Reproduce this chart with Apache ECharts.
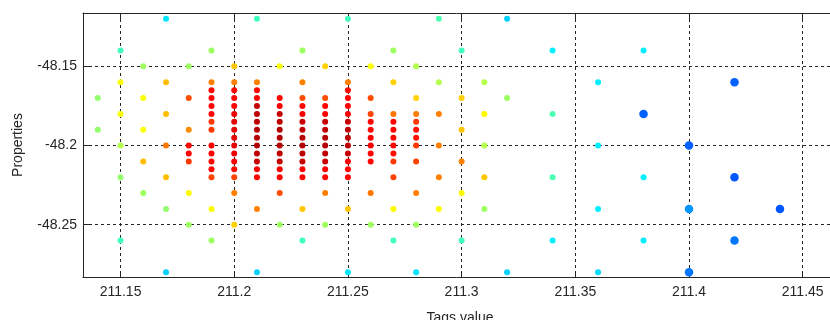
<!DOCTYPE html>
<html>
<head>
<meta charset="utf-8">
<script src="https://cdn.jsdelivr.net/npm/echarts@6/dist/echarts.min.js"></script>
<style>
  html, body { margin: 0; padding: 0; background: #ffffff; }
  #chart { width: 830px; height: 320px; }
</style>
</head>
<body>
<div id="chart"></div>
<script>
// Axis limits and tick positions
const xLimits = [211.1335, 211.462];
const yLimits = [-48.283, -48.1163];
const xTicks = [211.15, 211.2, 211.25, 211.3, 211.35, 211.4, 211.45];
const yTicks = [-48.25, -48.2, -48.15];

// Sparse lattice of readings: [tags value, property, intensity 0..1]
const outerPoints = [
  [211.14, -48.17, 0.52], [211.14, -48.19, 0.52],
  [211.15, -48.14, 0.44], [211.15, -48.16, 0.62], [211.15, -48.18, 0.62], [211.15, -48.20, 0.55], [211.15, -48.22, 0.52], [211.15, -48.26, 0.44],
  [211.16, -48.15, 0.53], [211.16, -48.17, 0.62], [211.16, -48.19, 0.62], [211.16, -48.21, 0.69], [211.16, -48.23, 0.53],
  [211.17, -48.12, 0.35], [211.17, -48.16, 0.69], [211.17, -48.18, 0.69], [211.17, -48.20, 0.76], [211.17, -48.22, 0.69], [211.17, -48.24, 0.52], [211.17, -48.28, 0.33],
  [211.18, -48.15, 0.53], [211.18, -48.17, 0.80], [211.18, -48.19, 0.74], [211.18, -48.23, 0.63], [211.18, -48.25, 0.53],
  [211.19, -48.14, 0.53], [211.19, -48.16, 0.75], [211.19, -48.24, 0.63], [211.19, -48.26, 0.53],
  [211.20, -48.15, 0.68], [211.20, -48.16, 0.75], [211.20, -48.23, 0.75], [211.20, -48.25, 0.67],
  [211.21, -48.12, 0.44], [211.21, -48.16, 0.75], [211.21, -48.24, 0.75], [211.21, -48.28, 0.33],
  [211.22, -48.15, 0.62], [211.22, -48.23, 0.80], [211.22, -48.25, 0.53],
  [211.23, -48.14, 0.53], [211.23, -48.16, 0.75], [211.23, -48.24, 0.68], [211.23, -48.26, 0.44],
  [211.24, -48.15, 0.67], [211.24, -48.23, 0.75], [211.24, -48.25, 0.53],
  [211.25, -48.12, 0.44], [211.25, -48.16, 0.75], [211.25, -48.24, 0.68], [211.25, -48.28, 0.35],
  [211.26, -48.15, 0.62], [211.26, -48.17, 0.80], [211.26, -48.18, 0.81], [211.26, -48.23, 0.76], [211.26, -48.25, 0.53],
  [211.27, -48.14, 0.53], [211.27, -48.16, 0.67], [211.27, -48.18, 0.76], [211.27, -48.22, 0.81], [211.27, -48.24, 0.63], [211.27, -48.26, 0.44],
  [211.28, -48.15, 0.55], [211.28, -48.17, 0.67], [211.28, -48.18, 0.75], [211.28, -48.20, 0.82], [211.28, -48.21, 0.81], [211.28, -48.23, 0.75], [211.28, -48.25, 0.53], [211.28, -48.28, 0.35],
  [211.29, -48.12, 0.45], [211.29, -48.16, 0.55], [211.29, -48.18, 0.75], [211.29, -48.20, 0.75], [211.29, -48.22, 0.75], [211.29, -48.24, 0.63],
  [211.30, -48.14, 0.44], [211.30, -48.17, 0.67], [211.30, -48.19, 0.68], [211.30, -48.21, 0.75], [211.30, -48.23, 0.63], [211.30, -48.26, 0.44],
  [211.31, -48.16, 0.55], [211.31, -48.18, 0.63], [211.31, -48.20, 0.55], [211.31, -48.22, 0.68], [211.31, -48.24, 0.53],
  [211.32, -48.12, 0.33], [211.32, -48.17, 0.53], [211.32, -48.28, 0.33],
  [211.34, -48.14, 0.36], [211.34, -48.18, 0.45], [211.34, -48.22, 0.45], [211.34, -48.26, 0.36],
  [211.36, -48.16, 0.36], [211.36, -48.20, 0.36], [211.36, -48.24, 0.36], [211.36, -48.28, 0.34],
  [211.38, -48.14, 0.36], [211.38, -48.22, 0.36], [211.38, -48.26, 0.36]
];

// Dense core sampled every 0.005 in property
const corePoints = [
  [211.18, -48.20, 0.87], [211.18, -48.205, 0.87], [211.18, -48.21, 0.82],
  [211.19, -48.165, 0.87], [211.19, -48.17, 0.87], [211.19, -48.175, 0.87], [211.19, -48.18, 0.87], [211.19, -48.185, 0.82], [211.19, -48.19, 0.82],
  [211.19, -48.20, 0.88], [211.19, -48.205, 0.87], [211.19, -48.21, 0.87], [211.19, -48.215, 0.87], [211.19, -48.22, 0.81],
  [211.20, -48.165, 0.87], [211.20, -48.17, 0.87], [211.20, -48.175, 0.87], [211.20, -48.18, 0.89], [211.20, -48.185, 0.90], [211.20, -48.19, 0.90],
  [211.20, -48.195, 0.90], [211.20, -48.20, 0.90], [211.20, -48.205, 0.89], [211.20, -48.21, 0.88], [211.20, -48.215, 0.87], [211.20, -48.22, 0.81],
  [211.21, -48.165, 0.87], [211.21, -48.17, 0.88], [211.21, -48.175, 0.93], [211.21, -48.18, 0.94], [211.21, -48.185, 0.94], [211.21, -48.19, 0.95],
  [211.21, -48.195, 0.95], [211.21, -48.20, 0.95], [211.21, -48.205, 0.94], [211.21, -48.21, 0.93], [211.21, -48.215, 0.88], [211.21, -48.22, 0.87],
  [211.22, -48.17, 0.87], [211.22, -48.175, 0.88], [211.22, -48.18, 0.93], [211.22, -48.185, 0.94], [211.22, -48.19, 0.95], [211.22, -48.195, 0.95],
  [211.22, -48.20, 0.95], [211.22, -48.205, 0.94], [211.22, -48.21, 0.93], [211.22, -48.215, 0.88], [211.22, -48.22, 0.87],
  [211.23, -48.17, 0.80], [211.23, -48.175, 0.87], [211.23, -48.18, 0.88], [211.23, -48.185, 0.93], [211.23, -48.19, 0.94], [211.23, -48.195, 0.95],
  [211.23, -48.20, 0.95], [211.23, -48.205, 0.94], [211.23, -48.21, 0.93], [211.23, -48.215, 0.88], [211.23, -48.22, 0.87],
  [211.24, -48.17, 0.80], [211.24, -48.175, 0.87], [211.24, -48.18, 0.88], [211.24, -48.185, 0.93], [211.24, -48.19, 0.94], [211.24, -48.195, 0.95],
  [211.24, -48.20, 0.95], [211.24, -48.205, 0.94], [211.24, -48.21, 0.93], [211.24, -48.215, 0.88], [211.24, -48.22, 0.87],
  [211.25, -48.165, 0.87], [211.25, -48.17, 0.87], [211.25, -48.175, 0.87], [211.25, -48.18, 0.88], [211.25, -48.185, 0.93], [211.25, -48.19, 0.94],
  [211.25, -48.195, 0.94], [211.25, -48.20, 0.94], [211.25, -48.205, 0.93], [211.25, -48.21, 0.88], [211.25, -48.215, 0.87], [211.25, -48.22, 0.87],
  [211.26, -48.185, 0.87], [211.26, -48.19, 0.87], [211.26, -48.195, 0.88], [211.26, -48.20, 0.88], [211.26, -48.205, 0.87], [211.26, -48.21, 0.87],
  [211.27, -48.185, 0.87], [211.27, -48.19, 0.87], [211.27, -48.195, 0.87], [211.27, -48.20, 0.87], [211.27, -48.205, 0.86], [211.27, -48.21, 0.82],
  [211.28, -48.185, 0.82], [211.28, -48.19, 0.86], [211.28, -48.195, 0.86]
];

// Far-right readings drawn with larger markers
const farPoints = [
  [211.38, -48.18, 0.22],
  [211.40, -48.20, 0.22], [211.40, -48.24, 0.27], [211.40, -48.28, 0.24],
  [211.42, -48.16, 0.22], [211.42, -48.22, 0.21], [211.42, -48.26, 0.24],
  [211.44, -48.24, 0.21]
];

// Jet colour ramp, evenly spaced from 0 to 1
const jetColors = ['#00008f', '#0000ff', '#0080ff', '#00ffff', '#80ff80', '#ffff00', '#ff8000', '#ff0000', '#800000'];

const ink = '#262626';
const font = '"Liberation Sans", Arial, Helvetica, sans-serif';
const fmt = v => String(Number(v.toFixed(3)));

const chart = echarts.init(document.getElementById('chart'), null, { renderer: 'canvas' });

chart.setOption({
  animation: false,
  backgroundColor: '#ffffff',
  grid: { left: 83, right: 0, top: 13, bottom: 43, outerBoundsMode: 'none' },
  visualMap: {
    show: false,
    type: 'continuous',
    dimension: 2,
    min: 0,
    max: 1,
    seriesIndex: [0, 1],
    inRange: { color: jetColors }
  },
  xAxis: [
    {
      type: 'value',
      position: 'bottom',
      min: xLimits[0],
      max: xLimits[1],
      name: 'Tags value',
      nameLocation: 'middle',
      nameGap: 34,
      nameTextStyle: { color: ink, fontSize: 14, fontFamily: font, padding: [0, 0, 0, 7] },
      axisLine: { show: true, onZero: false, lineStyle: { color: ink, width: 1 } },
      axisTick: { show: true, inside: true, length: 6, customValues: xTicks, lineStyle: { color: ink } },
      axisLabel: { customValues: xTicks, formatter: fmt, color: ink, fontSize: 14, fontFamily: font, margin: 8 },
      splitLine: { show: true, lineStyle: { color: ink, width: 1, type: [3, 3] } }
    },
    {
      type: 'value',
      position: 'top',
      min: xLimits[0],
      max: xLimits[1],
      axisLine: { show: true, onZero: false, lineStyle: { color: ink, width: 1 } },
      axisTick: { show: true, inside: true, length: 6, customValues: xTicks, lineStyle: { color: ink } },
      axisLabel: { show: false },
      splitLine: { show: false }
    }
  ],
  yAxis: {
    type: 'value',
    min: yLimits[0],
    max: yLimits[1],
    name: 'Properties',
    nameLocation: 'middle',
    nameGap: 58,
    nameTextStyle: { color: ink, fontSize: 14, fontFamily: font },
    axisLine: { show: true, onZero: false, lineStyle: { color: ink, width: 1 } },
    axisTick: { show: true, inside: true, length: 6, customValues: yTicks, lineStyle: { color: ink } },
    axisLabel: { customValues: yTicks, formatter: fmt, color: ink, fontSize: 14, fontFamily: font, margin: 6 },
    splitLine: { show: true, lineStyle: { color: ink, width: 1, type: [3, 3] } }
  },
  series: [
    {
      type: 'scatter',
      xAxisIndex: 0,
      symbol: 'circle',
      symbolSize: 6,
      data: outerPoints.concat(corePoints),
      itemStyle: { opacity: 1 }
    },
    {
      type: 'scatter',
      xAxisIndex: 0,
      symbol: 'circle',
      symbolSize: 8.5,
      data: farPoints,
      itemStyle: { opacity: 1 }
    }
  ]
});
</script>
</body>
</html>
